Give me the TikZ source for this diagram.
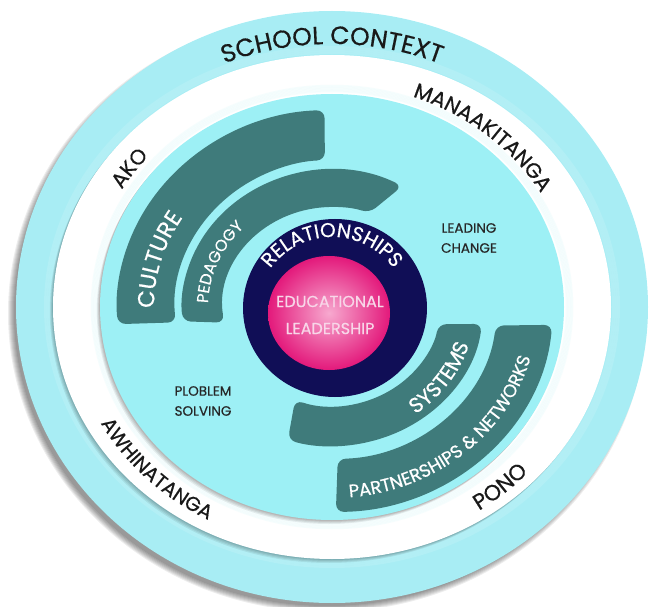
\documentclass[tikz,border=0pt]{standalone}
\usepackage{fontspec}
\setmainfont{Poppins}[FakeBold=0.5]
\usetikzlibrary{calc, decorations.text}

\definecolor{ringcyan}{HTML}{A8EDF4}
\definecolor{diskcyan}{HTML}{9DF0F5}
\definecolor{bandteal}{HTML}{3F7B7B}
\definecolor{corenavy}{HTML}{100E56}
\definecolor{corepink}{HTML}{E3197B}
\definecolor{pinklight}{HTML}{F7A9CF}
\definecolor{labelpink}{HTML}{F8D6E8}

\tikzset{
  arclabel/.style={decorate, decoration={text along path, text align=center, text color=#1}},
  arclabel/.default=black!90,
  band/.style={fill=bandteal, rounded corners=8pt},
  plainlabel/.style={font=\fontsize{13.5}{20}\selectfont, text=black!85, align=center, inner sep=0pt},
}

\begin{document}
\begin{tikzpicture}[x=1pt, y=1pt]
  \useasboundingbox (0,0) rectangle (654,-607);
  \coordinate (c) at (332,-307);

  % shadow under the whole disc
  \foreach \k in {0,...,6}
    \fill[black, opacity=0.07] ($(c)+(-5,-6)$) ellipse [x radius=313+\k, y radius=293+\k];

  % outer ring, white band, inner disc
  \fill[ringcyan] (c) ellipse [x radius=316, y radius=296];
  \foreach \k in {1,...,4}
    \draw[white, opacity=0.12, line width=2pt] (c) ellipse [x radius=279+2*\k, y radius=252+2*\k];
  \foreach \k in {1,...,4}
    \fill[black, opacity=0.07] ($(c)+(-0.8*\k,-\k)$) ellipse [x radius=279, y radius=252];
  \fill[white] (c) ellipse [x radius=279, y radius=252];
  \foreach \k in {1,...,4}
    \fill[black, opacity=0.08] ($(c)+(-0.8*\k,-\k)$) ellipse [x radius=232, y radius=213];
  \fill[diskcyan] (c) ellipse [x radius=232, y radius=213];
  \foreach \k in {1,...,5}
    \draw[diskcyan, opacity=0.1, line width=1.5pt] (c) ellipse [x radius=233+1.5*\k, y radius=214+1.5*\k];

  % the four bands
  \fill[band] ($(c)+(92:215 and 197)$) arc [start angle=92, end angle=185, x radius=215, y radius=197]
    -- ($(c)+(186:157 and 147)$) arc [start angle=186, end angle=92.6, x radius=157, y radius=147] -- cycle;
  \fill[band] ($(c)+(62:150 and 137)$) arc [start angle=62, end angle=186, x radius=150, y radius=137]
    -- ($(c)+(189:109 and 100)$) arc [start angle=189, end angle=70, x radius=109, y radius=100] -- cycle;
  \fill[band] ($(c)+(-7:151 and 139)$) arc [start angle=-7, end angle=-107, x radius=151, y radius=139]
    -- ($(c)+(-110:108 and 99)$) arc [start angle=-110, end angle=-10, x radius=108, y radius=99] -- cycle;
  \fill[band] ($(c)+(-5:221 and 205)$) arc [start angle=-5, end angle=-89, x radius=221, y radius=205]
    -- ($(c)+(-88:165 and 152)$) arc [start angle=-88, end angle=-7, x radius=165, y radius=152] -- cycle;

  % core
  \fill[corenavy] (335,-308) ellipse [x radius=92, y radius=89];
  \shade[inner color=pinklight, outer color=corepink] (329,-313) ellipse [x radius=61, y radius=57];

  % curved labels
  \path[arclabel, decoration={text={|\fontsize{25}{25}\selectfont|SCHOOL CONTEXT}}]
    ($(c)+(150:285 and 263)$) arc [start angle=150, end angle=30, x radius=285, y radius=263];
  \path[arclabel, decoration={text={|\fontsize{21}{21}\selectfont|MANAAKITANGA}}]
    ($(c)+(100:243 and 223)$) arc [start angle=100, end angle=-1, x radius=243, y radius=223];
  \path[arclabel, decoration={text={|\fontsize{21}{21}\selectfont|AKO}}]
    ($(c)+(175:246 and 226)$) arc [start angle=175, end angle=113, x radius=246, y radius=226];
  \path[arclabel, decoration={text={|\fontsize{20}{20}\selectfont|AWHINATANGA}}]
    ($(c)+(195:264 and 241)$) arc [start angle=195, end angle=255, x radius=264, y radius=241];
  \path[arclabel, decoration={text={|\fontsize{22}{22}\selectfont|PONO}}]
    ($(c)+(-79:267 and 244)$) arc [start angle=-79, end angle=-19, x radius=267, y radius=244];

  \path[arclabel=white, decoration={text={|\fontsize{23}{23}\selectfont|CULTURE}}]
    ($(c)+(200:178 and 164)$) arc [start angle=200, end angle=128, x radius=178, y radius=164];
  \path[arclabel=white, decoration={text={|\fontsize{16}{16}\selectfont|PEDAGOGY}}]
    ($(c)+(192:124 and 113)$) arc [start angle=192, end angle=122, x radius=124, y radius=113];
  \path[arclabel=white, decoration={text={|\fontsize{21}{21}\selectfont|SYSTEMS}}]
    ($(c)+(-70:143 and 132)$) arc [start angle=-70, end angle=0, x radius=143, y radius=132];
  \path[arclabel=white, decoration={text={|\fontsize{18}{18}\selectfont|PARTNERSHIPS {\&} NETWORKS}}]
    ($(c)+(-92:206 and 191)$) arc [start angle=-92, end angle=-8, x radius=206, y radius=191];
  \path[arclabel=white, decoration={text={|\fontsize{20}{20}\selectfont|RELATIONSHIPS}}]
    ($(332,-313)+(170:76)$) arc [start angle=170, end angle=10, radius=76];

  % plain labels
  \node[plainlabel] (leading) at (469,-238) {LEADING\\CHANGE};
  \node[plainlabel] (problem) at (203,-401) {PLOBLEM\\SOLVING};
  \node[font=\fontsize{16}{27}\selectfont, text=labelpink, align=center, inner sep=0pt] (core) at (330,-315) {EDUCATIONAL\\LEADERSHIP};
\end{tikzpicture}
\end{document}
